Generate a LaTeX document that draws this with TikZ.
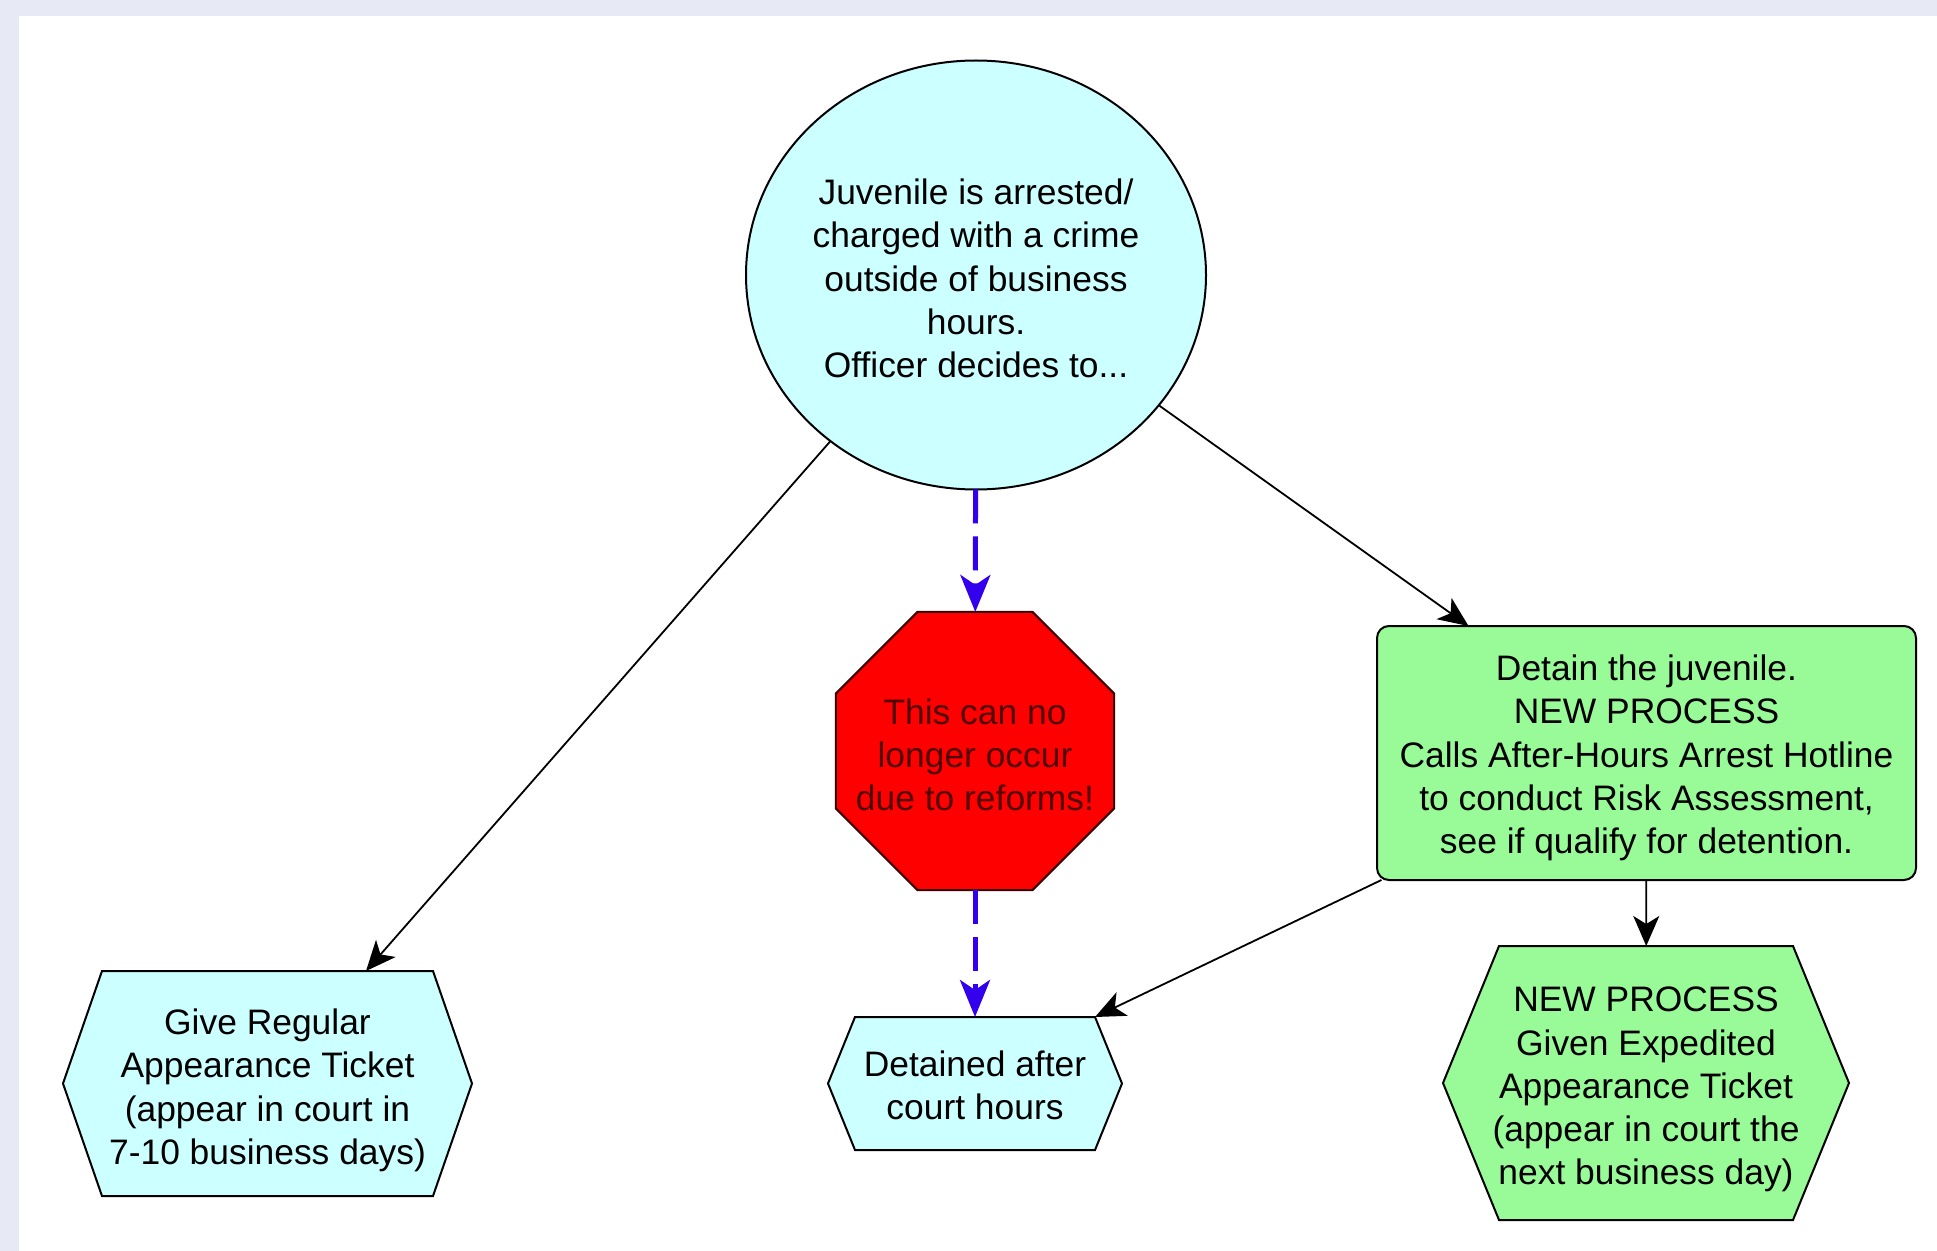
\documentclass[tikz,border=0pt]{standalone}
\usepackage{fontspec}
\setmainfont{Liberation Sans}
\usetikzlibrary{shapes.geometric,arrows.meta}

\definecolor{bandgrey}{RGB}{231,234,244}
\definecolor{cyanfill}{RGB}{204,255,255}
\definecolor{greenfill}{RGB}{152,251,152}
\definecolor{stopred}{RGB}{255,0,0}
\definecolor{stopline}{RGB}{60,0,0}
\definecolor{stoptext}{RGB}{80,0,0}
\definecolor{flowblue}{RGB}{51,0,238}

% hexagon round an empty box node: name, inset, fill
\newcommand{\drawhex}[3]{%
	\filldraw[fill=#3, line width=1pt] (#1.west) -- ([xshift=#2]#1.north west) -- ([xshift=-#2]#1.north east) -- (#1.east) -- ([xshift=-#2]#1.south east) -- ([xshift=#2]#1.south west) -- cycle;}

\begin{document}
\begin{tikzpicture}[x=0.5pt,y=-0.5pt,
		every node/.style={font=\fontsize{17.7}{21.6}\selectfont, align=center, inner sep=0pt, outer sep=0pt},
		shapeline/.style={draw, line width=1pt},
		flow/.style={-{Stealth[length=15pt,width=13pt,inset=4pt]}, line width=0.9pt},
		oldflow/.style={-{Stealth[length=18.5pt,width=15pt,inset=5pt]}, draw=flowblue, line width=2.5pt, dash pattern=on 17pt off 6.5pt}]
		\useasboundingbox (0,0) rectangle (1937,1251);
		
		% Page
		\fill[bandgrey] (0,0) rectangle (1937,1251);
		\fill[white] (19,16) rectangle (1937,1251);
		
		% Arrest
		\node[ellipse, shapeline, fill=cyanfill, minimum width=230pt, minimum height=214.5pt] (arrest) at (976,275) {};
		\node (arresttext) at (976,278.4) {Juvenile is arrested/\\charged with a crime\\outside of business\\hours.\\Officer decides to...};
		
		% Stop sign
		\node[regular polygon, regular polygon sides=8, draw=stopline, line width=1pt, fill=stopred, minimum size=150.5pt] (stop) at (975,751) {};
		\node[text=stoptext] (stoptext) at (975,754.8) {This can no\\longer occur\\due to reforms!};
		
		% Detain
		\node[rectangle, rounded corners=6pt, shapeline, fill=greenfill, minimum width=269.5pt, minimum height=127pt] (detain) at (1646.5,753) {};
		\node (detaintext) at (1646.5,758) {Detain the juvenile.\\NEW PROCESS\\Calls After-Hours Arrest Hotline\\to conduct Risk Assessment,\\see if qualify for detention.};
		
		% Regular ticket
		\node[minimum width=204.5pt, minimum height=112.5pt] (regular) at (267.5,1083.5) {};
		\drawhex{regular}{19.5pt}{cyanfill}
		\node (regulartext) at (267.5,1090.3) {Give Regular\\Appearance Ticket\\(appear in court in\\7-10 business days)};
		
		% Detained after hours
		\node[minimum width=147pt, minimum height=66.5pt] (afterhours) at (975,1083.5) {};
		\drawhex{afterhours}{13.5pt}{cyanfill}
		\node (afterhourstext) at (975,1085.5) {Detained after\\court hours};
		
		% Expedited ticket
		\node[minimum width=203pt, minimum height=137pt] (expedited) at (1646,1083) {};
		\drawhex{expedited}{28pt}{greenfill}
		\node (expeditedtext) at (1646,1089.6) {NEW PROCESS\\Given Expedited\\Appearance Ticket\\(appear in court the\\next business day)};
		
		% Lines from arrest
		\draw[flow] (arrest) -- (regular);
		\draw[flow] (arrest) -- (detain);
		\draw[oldflow] (arrest) -- (stop);
		
		% Old route
		\draw[oldflow] (stop) -- (afterhours);
		
		% Lines from detain
		\draw[flow] (detain) -- ([xshift=-13.5pt]afterhours.north east);
		\draw[flow] (detain) -- (expedited);
	\end{tikzpicture}
\end{document}
